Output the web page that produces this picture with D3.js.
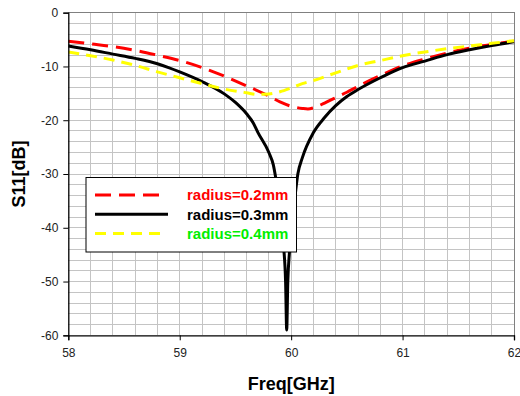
<!DOCTYPE html>
<html>
<head>
<meta charset="utf-8">
<script src="https://cdn.jsdelivr.net/npm/d3@7"></script>
<style>
  html, body { margin: 0; padding: 0; background: #fff; }
  svg { display: block; font-family: Arial, "Liberation Sans", sans-serif; }
</style>
</head>
<body>
<div id="chart"></div>
<script>
// frequency (GHz) / S11 (dB)
const freq02 = [58.0, 58.2, 58.4, 58.6, 58.8, 59.0, 59.2, 59.4, 59.6, 59.8, 59.9, 60.0, 60.1, 60.15, 60.2, 60.3, 60.4, 60.5, 60.6, 60.8, 61.0, 61.2, 61.4, 61.6, 61.8, 62.0];
const s11r02 = [-5.3, -5.8, -6.3, -7.0, -7.9, -8.9, -10.2, -11.8, -13.6, -15.5, -16.6, -17.4, -17.8, -17.9, -17.7, -16.8, -15.8, -14.8, -13.7, -11.7, -9.9, -8.6, -7.5, -6.6, -5.9, -5.3];

const freq03 = [58.0, 58.2, 58.4, 58.6, 58.8, 58.9, 59.0, 59.2, 59.4, 59.5, 59.6, 59.66, 59.7, 59.8, 59.84, 59.86, 59.9, 59.93, 59.95, 59.96, 59.97, 59.985, 60.0, 60.03, 60.06, 60.1, 60.2, 60.3, 60.4, 60.5, 60.6, 60.8, 61.0, 61.2, 61.4, 61.6, 61.8, 62.0];
const s11r03 = [-6.2, -6.9, -7.7, -8.5, -9.5, -10.2, -11.0, -12.8, -15.1, -16.7, -18.8, -20.5, -22.2, -26.0, -28.3, -30.5, -36.0, -43.0, -50.0, -59.0, -50.0, -44.5, -40.0, -35.0, -30.0, -27.0, -22.3, -19.5, -17.3, -15.6, -14.3, -12.1, -10.2, -9.0, -7.8, -6.9, -6.1, -5.4];

const freq04 = [58.0, 58.2, 58.4, 58.6, 58.8, 59.0, 59.2, 59.4, 59.6, 59.7, 59.8, 59.9, 60.0, 60.1, 60.2, 60.4, 60.6, 60.8, 61.0, 61.2, 61.4, 61.6, 61.8, 62.0];
const s11r04 = [-7.3, -8.0, -8.8, -9.8, -11.0, -12.1, -13.2, -14.2, -14.9, -15.2, -15.1, -14.7, -14.0, -13.2, -12.6, -11.2, -9.8, -8.9, -8.0, -7.3, -6.7, -6.2, -5.7, -5.2];

const seriesNames = ['radius=0.2mm', 'radius=0.3mm', 'radius=0.4mm'];
const xTicks = [58, 59, 60, 61, 62];
const yTicks = [0, -10, -20, -30, -40, -50, -60];

const width = 520, height = 396;
const m = { left: 68.3, right: 514, top: 12.7, bottom: 335.3 };

const svg = d3.select('#chart').append('svg')
  .attr('width', width)
  .attr('height', height);

const x = d3.scaleLinear().domain([58, 62]).range([m.left, m.right]);
const y = d3.scaleLinear().domain([-60, 0]).range([m.bottom, m.top]);

// grid every 0.2 GHz and 2 dB
const grid = svg.append('g').attr('shape-rendering', 'crispEdges');
grid.selectAll('.vg')
  .data(d3.range(1, 20).map(i => 58 + i * 0.2))
  .join('line')
  .attr('x1', d => x(d)).attr('x2', d => x(d))
  .attr('y1', m.top).attr('y2', m.bottom)
  .attr('stroke', '#c4c4c4');
grid.selectAll('.hg')
  .data(d3.range(1, 30).map(i => -i * 2))
  .join('line')
  .attr('x1', m.left).attr('x2', m.right)
  .attr('y1', d => y(d)).attr('y2', d => y(d))
  .attr('stroke', '#c4c4c4');

// top / right frame
svg.append('path')
  .attr('d', `M${m.left},${m.top}H${m.right}V${m.bottom}`)
  .attr('fill', 'none')
  .attr('stroke', '#808080')
  .attr('shape-rendering', 'crispEdges');

const series = [
  { name: seriesNames[0], xs: freq02, ys: s11r02, color: '#ff0000', dash: '16,8', w: 3 },
  { name: seriesNames[1], xs: freq03, ys: s11r03, color: '#000000', dash: null, w: 3 },
  { name: seriesNames[2], xs: freq04, ys: s11r04, color: '#ffff00', dash: '11,7', w: 3 }
];

const line = d3.line()
  .x(d => x(d[0]))
  .y(d => y(d[1]))
  .curve(d3.curveMonotoneX);

svg.append('defs').append('clipPath').attr('id', 'clip')
  .append('rect').attr('x', m.left).attr('y', m.top - 2)
  .attr('width', m.right - m.left + 2).attr('height', m.bottom - m.top + 2);

const plot = svg.append('g').attr('clip-path', 'url(#clip)');
series.forEach(s => {
  plot.append('path')
    .datum(s.xs.map((f, i) => [f, s.ys[i]]))
    .attr('d', line)
    .attr('fill', 'none')
    .attr('stroke', s.color)
    .attr('stroke-width', s.w)
    .attr('stroke-dasharray', s.dash);
});

// axes (plain hyphen minus like the original)
const xAxis = svg.append('g')
  .attr('transform', `translate(0,${m.bottom})`)
  .call(d3.axisBottom(x).tickValues(xTicks).tickSize(5).tickPadding(8).tickFormat(d => String(d)));
const yAxis = svg.append('g')
  .attr('transform', `translate(${m.left},0)`)
  .call(d3.axisLeft(y).tickValues(yTicks).tickSize(5).tickPadding(5).tickFormat(d => String(d)));
[xAxis, yAxis].forEach(a => {
  a.select('.domain').attr('stroke', '#000').attr('stroke-width', 1.3);
  a.selectAll('.tick line').attr('stroke', '#000');
  a.selectAll('text')
    .attr('font-family', 'Arial, "Liberation Sans", sans-serif')
    .attr('font-size', 12)
    .attr('fill', '#222');
});

svg.append('text')
  .attr('x', (m.left + m.right) / 2)
  .attr('y', 390)
  .attr('text-anchor', 'middle')
  .attr('font-size', 18)
  .attr('font-weight', 'bold')
  .text('Freq[GHz]');

svg.append('text')
  .attr('transform', `translate(25,${(m.top + m.bottom) / 2}) rotate(-90)`)
  .attr('text-anchor', 'middle')
  .attr('font-size', 18)
  .attr('font-weight', 'bold')
  .text('S11[dB]');

// legend
const legend = svg.append('g');
legend.append('rect')
  .attr('x', 86).attr('y', 177.5)
  .attr('width', 210.5).attr('height', 74.5)
  .attr('fill', '#fff')
  .attr('stroke', '#000')
  .attr('stroke-width', 1);

const textColors = ['#ff0000', '#000000', '#00ee00'];
series.forEach((s, i) => {
  const ly = 195 + i * 19.2;
  legend.append('line')
    .attr('x1', 95).attr('x2', i === 1 ? 168 : 165)
    .attr('y1', ly).attr('y2', ly)
    .attr('stroke', s.color)
    .attr('stroke-width', s.w)
    .attr('stroke-dasharray', s.dash);
  legend.append('text')
    .attr('x', 187).attr('y', ly)
    .attr('dy', '0.36em')
    .attr('font-size', 15)
    .attr('font-weight', 'bold')
    .attr('fill', textColors[i])
    .text(s.name);
});
</script>
</body>
</html>
